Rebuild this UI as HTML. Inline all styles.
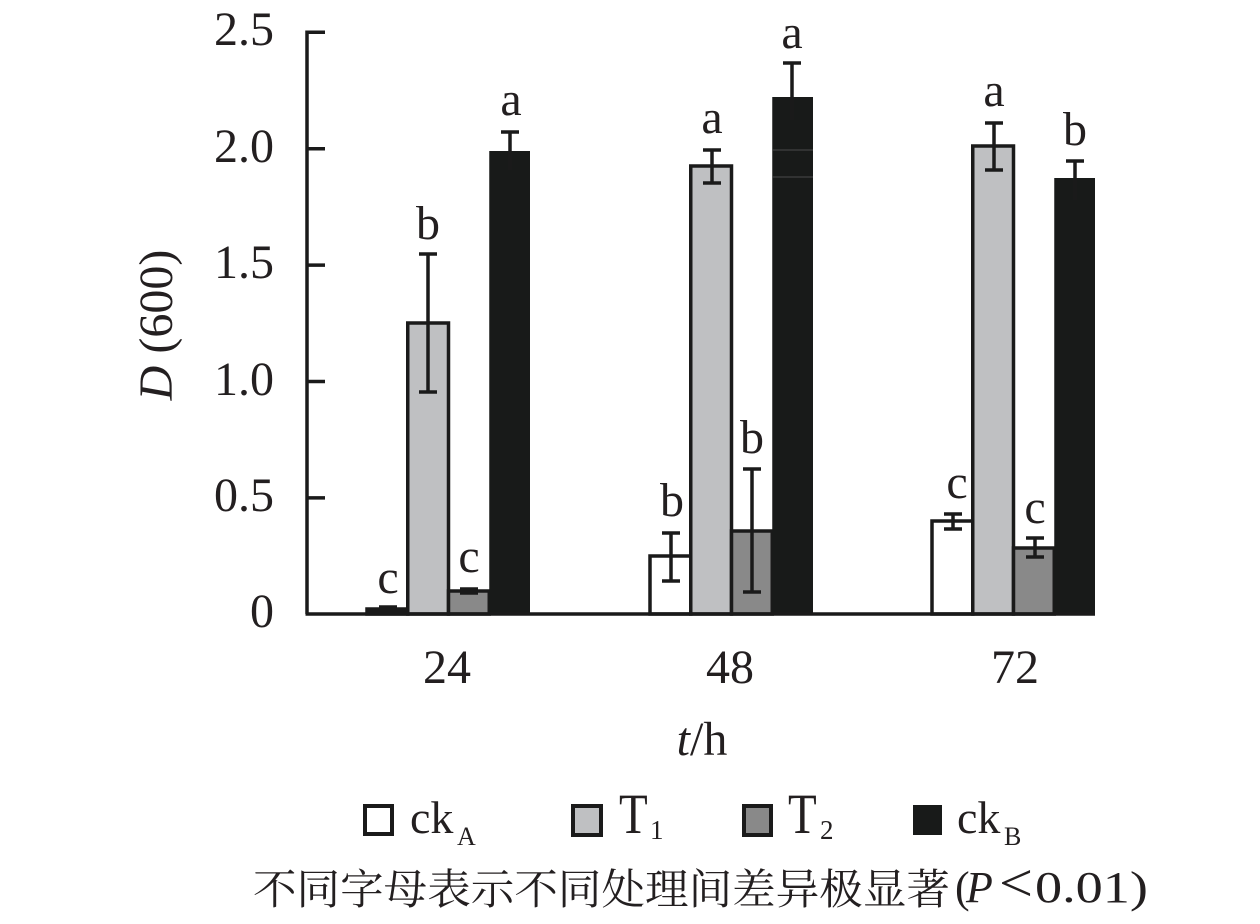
<!DOCTYPE html>
<html>
<head>
<meta charset="utf-8">
<style>
  html,body{margin:0;padding:0;background:#fff;}
  svg{display:block;}
  text{font-family:"Liberation Serif","Noto Serif CJK SC",serif;fill:#231f20;}
  .cjk{font-family:"Liberation Serif","Noto Serif CJK SC","Noto Sans CJK SC",serif;}
</style>
</head>
<body>
<svg width="1260" height="924" viewBox="0 0 1260 924" xmlns="http://www.w3.org/2000/svg">
  <rect width="1260" height="924" fill="#fff"/>

  <!-- Bars group 24 -->
  <g stroke="#1a1a1a" stroke-width="3.5">
    <rect x="367" y="609" width="40.75" height="5" fill="#1a1a1a"/>
    <rect x="407.75" y="323" width="40.75" height="291" fill="#bfc0c2"/>
    <rect x="448.5" y="591" width="40.75" height="23" fill="#898989"/>
  </g>
  <rect x="489.25" y="151" width="40.75" height="463" fill="#181a19"/>

  <!-- Bars group 48 -->
  <g stroke="#1a1a1a" stroke-width="3.5">
    <rect x="650" y="556" width="40.75" height="58" fill="#fff"/>
    <rect x="690.75" y="166" width="40.75" height="448" fill="#bfc0c2"/>
    <rect x="731.5" y="531" width="40.75" height="83" fill="#898989"/>
  </g>
  <rect x="772.25" y="97" width="40.75" height="517" fill="#181a19"/>
  <line x1="772.25" y1="150" x2="813" y2="150" stroke="#4a4a4a" stroke-width="1"/>
  <line x1="772.25" y1="177" x2="813" y2="177" stroke="#4a4a4a" stroke-width="1"/>

  <!-- Bars group 72 -->
  <g stroke="#1a1a1a" stroke-width="3.5">
    <rect x="932" y="521" width="40.75" height="93" fill="#fff"/>
    <rect x="972.75" y="146" width="40.75" height="468" fill="#bfc0c2"/>
    <rect x="1013.5" y="548" width="40.75" height="66" fill="#898989"/>
  </g>
  <rect x="1054.25" y="178" width="40.75" height="436" fill="#181a19"/>

  <!-- Error bars -->
  <g stroke="#1a1a1a" stroke-width="3.5" fill="none">
    <path d="M388 607V611M379 607H397M379 611H397"/>
    <path d="M428 254V392M419 254H437M419 392H437"/>
    <path d="M469 589V593M460 589H478M460 593H478"/>
    <path d="M510 132V170M501 132H519"/>
    <path d="M671 533V581M662 533H680M662 581H680"/>
    <path d="M712 150V183M703 150H721M703 183H721"/>
    <path d="M752 469V592M743 469H761M743 592H761"/>
    <path d="M792 63V120M783 63H801"/>
    <path d="M953 514V529M944 514H962M944 529H962"/>
    <path d="M994 123V170M985 123H1003M985 170H1003"/>
    <path d="M1035 538V557M1026 538H1044M1026 557H1044"/>
    <path d="M1075 161V200M1066 161H1084"/>
  </g>

  <!-- Axes -->
  <g stroke="#1a1a1a" stroke-width="3.5" fill="none">
    <path d="M307 30.5V614"/>
    <path d="M305.5 614H1095"/>
    <path d="M307 32.3H325M307 148.7H325M307 265.1H325M307 381.5H325M307 497.9H325"/>
  </g>

  <!-- Y tick labels -->
  <g font-size="48" text-anchor="end">
    <text x="274" y="45">2.5</text>
    <text x="274" y="162">2.0</text>
    <text x="274" y="278">1.5</text>
    <text x="274" y="395">1.0</text>
    <text x="274" y="511">0.5</text>
    <text x="274" y="627">0</text>
  </g>

  <!-- Y axis title -->
  <text font-size="48" text-anchor="middle" transform="translate(172,325) rotate(-90)"><tspan font-style="italic">D</tspan> (600)</text>

  <!-- X tick labels -->
  <g font-size="48" text-anchor="middle">
    <text x="447" y="683">24</text>
    <text x="730" y="683">48</text>
    <text x="1015" y="683">72</text>
  </g>

  <!-- X axis title -->
  <text x="702" y="755" font-size="48" text-anchor="middle"><tspan font-style="italic">t</tspan>/h</text>

  <!-- Significance letters -->
  <g font-size="48" text-anchor="middle">
    <text x="388" y="593">c</text>
    <text x="428" y="239">b</text>
    <text x="469" y="572">c</text>
    <text x="511" y="115">a</text>
    <text x="672" y="516">b</text>
    <text x="712" y="133">a</text>
    <text x="752" y="453">b</text>
    <text x="792" y="48">a</text>
    <text x="957" y="498">c</text>
    <text x="994" y="106">a</text>
    <text x="1035" y="523">c</text>
    <text x="1075" y="145">b</text>
  </g>

  <!-- Legend -->
  <g stroke="#1a1a1a" stroke-width="4">
    <rect x="365" y="806" width="27" height="28" fill="#fff"/>
    <rect x="573" y="806" width="28" height="29" fill="#bfc0c2"/>
    <rect x="744" y="806" width="27" height="29" fill="#898989"/>
  </g>
  <rect x="913" y="805" width="29" height="30" fill="#181a19"/>

  <text x="410" y="833" font-size="46">ck</text>
  <text x="457" y="845" font-size="26">A</text>

  <text transform="translate(619,833) scale(1,1.22)" font-size="47">T</text>
  <text x="650" y="839" font-size="27">1</text>

  <text transform="translate(788,833) scale(1,1.22)" font-size="47">T</text>
  <text x="820" y="839" font-size="27">2</text>

  <text x="957" y="833" font-size="46">ck</text>
  <text x="1004" y="845" font-size="26">B</text>

  <!-- Footer note -->
  <text class="cjk" x="253" y="904" font-size="42" textLength="697" lengthAdjust="spacingAndGlyphs">不同字母表示不同处理间差异极显著</text>
  <text x="955" y="902" font-size="44">(</text>
  <text x="966" y="902" font-size="44" font-style="italic">P</text>
  <text x="999" y="901" font-size="54" textLength="34" lengthAdjust="spacingAndGlyphs">&lt;</text>
  <text x="1035" y="902" font-size="44" textLength="113" lengthAdjust="spacingAndGlyphs">0.01)</text>
</svg>
</body>
</html>
